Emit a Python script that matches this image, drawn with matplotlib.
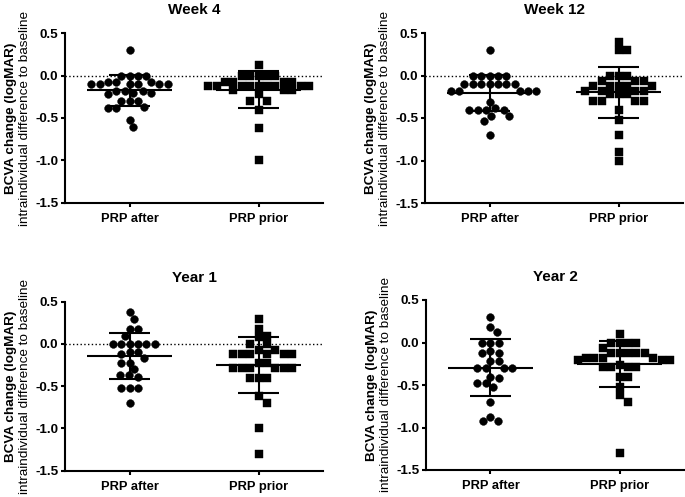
import matplotlib
matplotlib.use('Agg')
import matplotlib.pyplot as plt
import numpy as np

plt.rcParams['font.family'] = ['Liberation Sans', 'DejaVu Sans']
plt.rcParams['axes.unicode_minus'] = False

W, H = 685, 497

groups = ['PRP after', 'PRP prior']
titles = ['Week 4', 'Week 12', 'Year 1', 'Year 2']
yticks = [-1.5, -1.0, -0.5, 0.0, 0.5]

# BCVA change values (logMAR)
week4_after = [0.30, 0.0, 0.0, 0.0, 0.0, -0.08, -0.08, -0.08, -0.1, -0.1, -0.1,
               -0.1, -0.1, -0.1, -0.18, -0.18, -0.18, -0.2, -0.2, -0.22, -0.3,
               -0.3, -0.3, -0.37, -0.38, -0.38, -0.52, -0.61]
week4_prior = [0.12, 0.0, 0.0, 0.0, 0.0, 0.0, -0.07, -0.07, -0.07, -0.07,
               -0.12, -0.12, -0.12, -0.12, -0.12, -0.12, -0.12, -0.12, -0.12,
               -0.17, -0.17, -0.17, -0.22, -0.3, -0.3, -0.4, -0.62, -1.0]
week12_after = [0.30, 0.0, 0.0, 0.0, 0.0, 0.0, -0.1, -0.1, -0.1, -0.1, -0.1,
                -0.1, -0.1, -0.18, -0.18, -0.18, -0.18, -0.18, -0.31, -0.38,
                -0.4, -0.4, -0.4, -0.4, -0.48, -0.48, -0.53, -0.7]
week12_prior = [0.40, 0.30, 0.30, 0.0, 0.0, 0.0, -0.07, -0.07, -0.07, -0.12,
                -0.12, -0.12, -0.12, -0.12, -0.18, -0.18, -0.18, -0.18, -0.22,
                -0.22, -0.22, -0.3, -0.3, -0.3, -0.3, -0.4, -0.52, -0.7, -0.9,
                -1.0]
year1_after = [0.38, 0.30, 0.18, 0.18, 0.10, 0.0, 0.0, 0.0, 0.0, 0.0, 0.0,
               -0.1, -0.1, -0.12, -0.17, -0.22, -0.22, -0.3, -0.37, -0.37,
               -0.39, -0.52, -0.52, -0.52, -0.7]
year1_prior = [0.30, 0.18, 0.10, 0.08, 0.0, 0.0, -0.07, -0.07, -0.12, -0.12,
               -0.12, -0.12, -0.12, -0.12, -0.22, -0.22, -0.29, -0.29, -0.29,
               -0.29, -0.29, -0.29, -0.4, -0.4, -0.4, -0.62, -0.7, -1.0, -1.3]
year2_after = [0.30, 0.18, 0.12, 0.0, 0.0, 0.0, -0.1, -0.12, -0.12, -0.22,
               -0.22, -0.3, -0.3, -0.3, -0.3, -0.4, -0.42, -0.48, -0.48, -0.52,
               -0.7, -0.88, -0.92, -0.92]
year2_prior = [0.10, 0.0, 0.0, 0.0, 0.0, -0.07, -0.12, -0.12, -0.12, -0.12,
               -0.12, -0.18, -0.18, -0.18, -0.18, -0.21, -0.21, -0.21, -0.27,
               -0.29, -0.29, -0.29, -0.29, -0.4, -0.4, -0.52, -0.62, -0.7, -1.3]

panels = [(week4_after, week4_prior, True),
          (week12_after, week12_prior, True),
          (year1_after, year1_prior, True),
          (year2_after, year2_prior, False)]

# axes boxes in pixels: left, top, right, bottom
boxes = [(65, 33.3, 323, 202.7), (425, 33, 683, 203),
         (65, 301.7, 323, 470.7), (426, 300, 684, 470)]


def swarm(vals, d, xs, ys, square=False):
    # simple beeswarm in pixel space, returns x offsets in data units
    order = np.argsort(vals)[::-1]
    placed = []
    offs = np.zeros(len(vals))
    for i in order:
        y = vals[i] * ys
        cands = [0.0]
        for xj, yj in placed:
            dy = abs(y - yj)
            if dy < d:
                dx = d if square else np.sqrt(d ** 2 - dy ** 2)
                cands += [xj + dx, xj - dx]
        cands.sort(key=lambda c: (round(abs(c), 3), -c))
        best = 0.0
        for c in cands:
            ok = True
            for xj, yj in placed:
                if square:
                    if abs(c - xj) < d - 1e-6 and abs(y - yj) < d - 1e-6:
                        ok = False
                        break
                elif (c - xj) ** 2 + (y - yj) ** 2 < d ** 2 - 1e-6:
                    ok = False
                    break
            if ok:
                best = c
                break
        placed.append((best, y))
        offs[i] = best / xs
    return offs


fig = plt.figure(figsize=(W / 100, H / 100), dpi=100)

for k, (after, prior, zero) in enumerate(panels):
    l, t, r, b = boxes[k]
    ax = fig.add_axes([l / W, 1 - b / H, (r - l) / W, (b - t) / H])
    ax.set_xlim(-0.5, 1.5)
    ax.set_ylim(-1.5, 0.5)
    xs = (r - l) / 2.0
    ys = (b - t) / 2.0

    if zero:
        ax.axhline(0, color='black', lw=1.0, ls=(0, (1, 1.7)), zorder=1)

    for j, vals in enumerate([after, prior]):
        vals = np.array(vals)
        sq = j == 1
        offs = swarm(vals, 8.4, xs, ys, square=sq)
        ax.plot(j + offs, vals, ls='none', marker='s' if sq else 'o',
                ms=5.6, color='black', mec='black', mew=0.3, zorder=3)
        m = vals.mean()
        sd = vals.std(ddof=1)
        ax.hlines(m, j - 0.33, j + 0.33, color='black', lw=1.5, zorder=4)
        ax.hlines([m - sd, m + sd], j - 0.16, j + 0.16, color='black', lw=1.5,
                  zorder=4)
        ax.vlines(j, m - sd, m + sd, color='black', lw=1.5, zorder=4)

    for s in ['top', 'right']:
        ax.spines[s].set_visible(False)
    for s in ['left', 'bottom']:
        ax.spines[s].set_linewidth(1.5)
    ax.set_xticks([0, 1])
    ax.set_xticklabels(groups, fontsize=9.3, fontweight='bold')
    ax.set_yticks(yticks)
    ax.set_yticklabels(['%.1f' % v for v in yticks], fontsize=9.7,
                       fontweight='bold')
    ax.tick_params(axis='y', length=3.2, width=1.5, pad=1.5)
    ax.tick_params(axis='x', length=3.2, width=1.5, pad=4)
    ax.set_title(titles[k], fontsize=11, fontweight='bold', pad=14)

    yc = 1 - (t + b) / 2 / H
    fig.text((l - 54) / W, yc, 'BCVA change (logMAR)', rotation=90,
             ha='center', va='center', fontsize=9.7, fontweight='bold')
    fig.text((l - 40) / W, yc, 'intraindividual difference to baseline',
             rotation=90, ha='center', va='center', fontsize=9.7)

fig.savefig('out.png', dpi=100)
